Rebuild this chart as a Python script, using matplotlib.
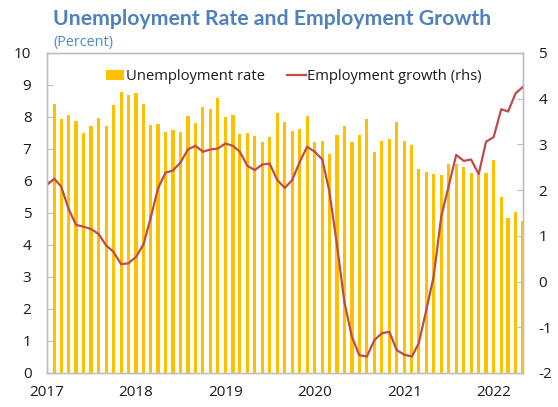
import matplotlib
matplotlib.use('Agg')
import matplotlib.pyplot as plt
import pandas as pd

# ---- data ----
months = pd.date_range('2017-01-01', '2022-05-01', freq='MS')
unemployment_rate = [
    8.40, 8.40, 7.93, 8.06, 7.86, 7.49, 7.73, 7.98, 7.71, 8.36, 8.77, 8.69,
    8.75, 8.42, 7.75, 7.79, 7.54, 7.60, 7.52, 8.03, 7.80, 8.31, 8.25, 8.59,
    8.00, 8.06, 7.47, 7.50, 7.42, 7.22, 7.36, 8.11, 7.85, 7.55, 7.63, 8.04,
    7.22, 7.26, 6.85, 7.43, 7.71, 7.21, 7.43, 7.94, 6.92, 7.25, 7.30, 7.84,
    7.26, 7.14, 6.38, 6.27, 6.21, 6.20, 6.52, 6.53, 6.43, 6.25, 6.21, 6.25,
    6.66, 5.51, 4.85, 5.03, 4.75,
]
employment_growth = [
    2.11, 2.25, 2.08, 1.58, 1.24, 1.20, 1.15, 1.04, 0.79, 0.65, 0.38, 0.40,
    0.54, 0.82, 1.38, 2.04, 2.38, 2.43, 2.60, 2.89, 2.97, 2.84, 2.89, 2.91,
    3.02, 2.97, 2.84, 2.53, 2.44, 2.56, 2.58, 2.22, 2.05, 2.22, 2.62, 2.95,
    2.84, 2.67, 1.97, 0.80, -0.44, -1.21, -1.61, -1.64, -1.28, -1.13, -1.10, -1.50,
    -1.60, -1.64, -1.35, -0.62, 0.11, 1.42, 2.08, 2.77, 2.64, 2.67, 2.35, 3.06,
    3.16, 3.77, 3.72, 4.12, 4.26,
]
year_labels = ['2017', '2018', '2019', '2020', '2021', '2022']
year_ticks = pd.to_datetime([y + '-01-01' for y in year_labels])
left_ticks = list(range(0, 11))
right_ticks = list(range(-2, 6))

plt.rcParams['font.family'] = ['Open Sans', 'DejaVu Sans']
plt.rcParams['axes.unicode_minus'] = False

W, H = 558, 407
fig = plt.figure(figsize=(W / 100, H / 100), dpi=100)
ax = fig.add_axes([46.7 / W, 1 - 373 / H, (523 - 46.7) / W, 320 / H])

bar_color = '#FFC000'
line_color = '#BE4B48'
frame_color = '#BFBFBF'
text_color = '#1A1A1A'

bars = ax.bar(months, unemployment_rate, width=13, color=bar_color,
              label='Unemployment rate', zorder=2)
ax.set_ylim(0, 10)
ax.set_yticks(left_ticks)
ax.set_xlim(months[0], months[-1])
ax.set_xticks(year_ticks)
ax.set_xticklabels(year_labels)

ax2 = ax.twinx()
line, = ax2.plot(months, employment_growth, color=line_color, lw=1.6,
                 label='Employment growth (rhs)')
ax2.set_ylim(-2, 5)
ax2.set_yticks(right_ticks)
ax2.set_xlim(months[0], months[-1])

for a in (ax, ax2):
    for s in a.spines.values():
        s.set_color(frame_color)
        s.set_linewidth(1.0)

ax.tick_params(axis='both', direction='in', length=4, color=frame_color,
               labelcolor=text_color, labelsize=11)
ax.tick_params(axis='y', pad=11)
ax.tick_params(axis='x', pad=9)
ax2.tick_params(axis='y', direction='in', length=4, color=frame_color,
                labelcolor=text_color, labelsize=11, pad=11)

ax2.legend([bars, line], ['Unemployment rate', 'Employment growth (rhs)'],
           loc='center', bbox_to_anchor=(0.519, 0.9266), ncol=2, frameon=False,
           fontsize=10.6, handlelength=1.25, handleheight=0.7, handletextpad=0.12,
           columnspacing=1.5, borderpad=0, labelcolor=text_color)

fig.text(53 / W, 1 - 25 / H, 'Unemployment Rate and Employment Growth',
         fontsize=15.3, fontweight='bold', color='#4F81BD', va='baseline', ha='left',
         family=['Lato', 'DejaVu Sans'])
fig.text(53 / W, 1 - 46 / H, '(Percent)', fontsize=10.4, color='#4A8AD0',
         va='baseline', ha='left')

fig.savefig('out.png', dpi=100)
